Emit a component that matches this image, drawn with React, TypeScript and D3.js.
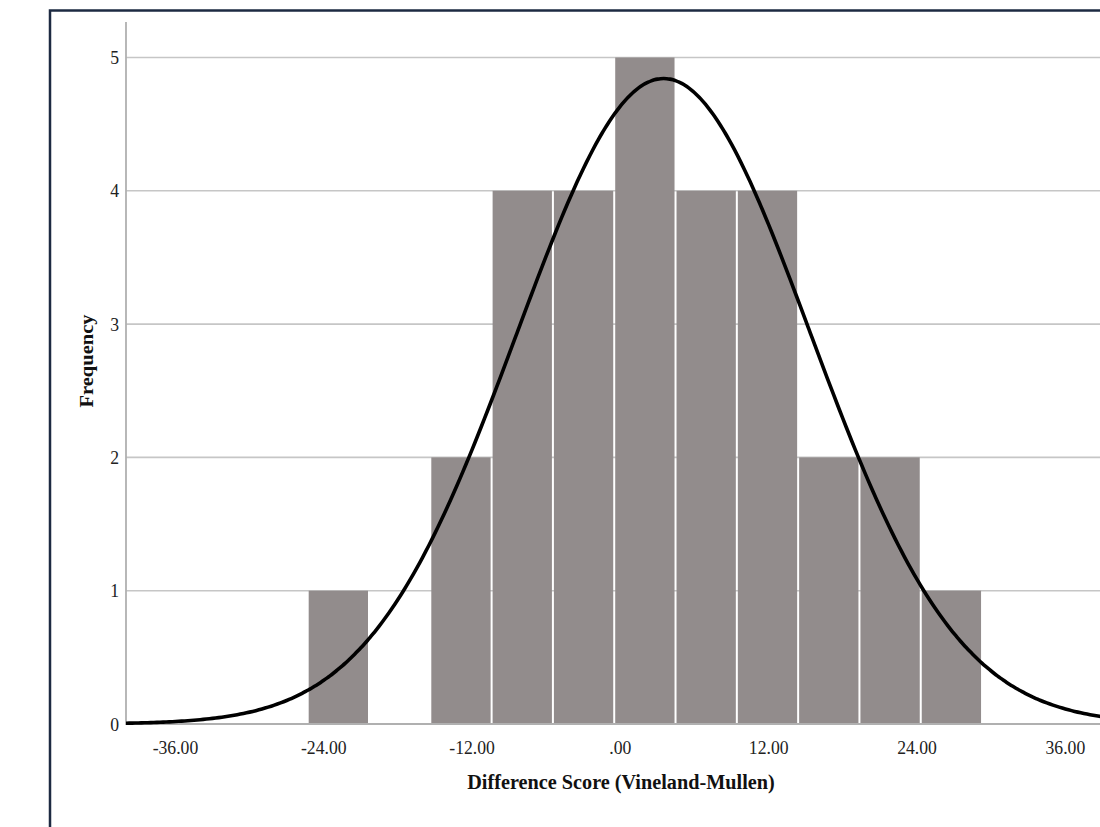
import React from "react";
import * as d3 from "d3";

// Histogram bins (lower edges) and counts
const binEdges = [-25.3, -20.34, -15.38, -10.42, -5.46, -0.5, 4.46, 9.42, 14.38, 19.34, 24.3, 29.26];
const counts = [1, 0, 2, 4, 4, 5, 4, 4, 2, 2, 1];
const xTicks = [-36, -24, -12, 0, 12, 24, 36];
const yTicks = [0, 1, 2, 3, 4, 5];
const normalMean = 3.5;
const normalSd = 11.85;
const xTitle = "Difference Score (Vineland-Mullen)";
const yTitle = "Frequency";

const W = 1100;
const H = 827;
const SX = 0.93; // slight horizontal squeeze of text in the reference

export default function App() {
  const x = d3.scaleLinear().domain([-40, 40]).range([126, 1114.8]);
  const y = d3.scaleLinear().domain([0, 5]).range([724, 57.5]);
  const n = d3.sum(counts);
  const bw = binEdges[1] - binEdges[0];
  const pdf = (v: number) =>
    (n * bw) / (normalSd * Math.sqrt(2 * Math.PI)) *
    Math.exp(-0.5 * ((v - normalMean) / normalSd) ** 2);
  const pts = d3.range(-40, 40.01, 0.25).map((v) => [v, pdf(v)] as [number, number]);
  const line = d3.line<[number, number]>().x((d) => x(d[0])).y((d) => y(d[1])).curve(d3.curveBasis);

  const fmt = (v: number) => (v === 0 ? ".00" : v.toFixed(2));

  return (
    <svg width={W} height={H} style={{ position: "absolute", left: 0, top: 0, background: "#fff" }}
      fontFamily="'Liberation Serif', 'Times New Roman', serif">
      <rect x={0} y={0} width={W} height={H} fill="#fff" />
      {/* frame */}
      <rect x={50} y={10.5} width={1100} height={900} fill="none" stroke="#1d2a42" strokeWidth={2.5} />
      {/* gridlines */}
      {yTicks.filter((t) => t > 0).map((t) => (
        <line key={t} x1={126} x2={W} y1={y(t)} y2={y(t)} stroke="#c6c6c6" strokeWidth={1.6} />
      ))}
      {/* bars */}
      {counts.map((c, i) =>
        c > 0 ? (
          <rect key={i} x={x(binEdges[i]) + 1} width={x(binEdges[i + 1]) - x(binEdges[i]) - 2}
            y={y(c)} height={y(0) - y(c)} fill="#928c8c" />
        ) : null
      )}
      {/* axes */}
      <line x1={126} x2={126} y1={22} y2={725} stroke="#b0b0b0" strokeWidth={1.8} />
      <line x1={126} x2={W} y1={724} y2={724} stroke="#b0b0b0" strokeWidth={1.8} />
      {/* curve */}
      <path d={line(pts) || ""} fill="none" stroke="#000" strokeWidth={3.6} />
      {/* y tick labels */}
      {yTicks.map((t) => (
        <text key={t} transform={`translate(119,${y(t) + 6.5}) scale(${SX},1)`} textAnchor="end"
          fontSize={19} fill="#222">{t}</text>
      ))}
      {/* x tick labels */}
      {xTicks.map((t) => (
        <text key={t} transform={`translate(${x(t)},754) scale(${SX},1)`} textAnchor="middle"
          fontSize={19} fill="#222">{fmt(t)}</text>
      ))}
      {/* titles */}
      <text transform={`translate(621,789) scale(0.92,1)`} textAnchor="middle" fontSize={22}
        fontWeight="bold" fill="#111">{xTitle}</text>
      <text transform={`translate(93,361) scale(0.92,1) rotate(-90)`} textAnchor="middle" fontSize={20.5}
        fontWeight="bold" fill="#111">{yTitle}</text>
    </svg>
  );
}
